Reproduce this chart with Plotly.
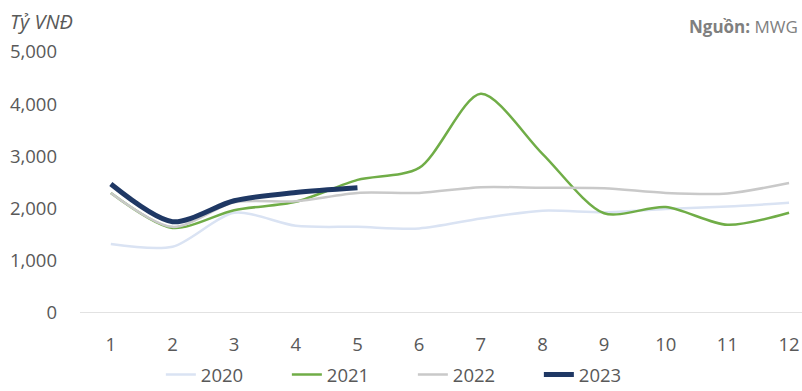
import plotly.graph_objects as go

# Monthly revenue (billion VND) by year
months = [1, 2, 3, 4, 5, 6, 7, 8, 9, 10, 11, 12]
month_labels = [str(m) for m in months]

rev_2020 = [1320, 1270, 1920, 1670, 1650, 1620, 1810, 1960, 1930, 1990, 2040, 2110]
rev_2021 = [2300, 1630, 1970, 2130, 2550, 2780, 4200, 3050, 1910, 2030, 1690, 1920]
rev_2022 = [2300, 1650, 2120, 2140, 2300, 2300, 2410, 2400, 2390, 2300, 2290, 2490]
rev_2023 = [2470, 1750, 2150, 2310, 2400]

y_ticks = [0, 1000, 2000, 3000, 4000, 5000]
y_tick_labels = ["0", "1,000", "2,000", "3,000", "4,000", "5,000"]

series = [
    ("2020", rev_2020, "#dae3f3", 2.5),
    ("2021", rev_2021, "#70ad47", 2.5),
    ("2022", rev_2022, "#c9c9c9", 2.5),
    ("2023", rev_2023, "#1f3864", 5),
]

FONT = "Open Sans"
TEXT = "#595959"
FS = 18.5

fig = go.Figure()
for name, vals, color, width in series:
    fig.add_trace(go.Scatter(
        x=months[:len(vals)],
        y=vals,
        name=name,
        mode="lines",
        line=dict(color=color, width=width, shape="spline", smoothing=0.8),
    ))

fig.update_layout(
    width=802,
    height=391,
    margin=dict(l=80, r=0, t=52, b=78, autoexpand=False),
    paper_bgcolor="white",
    plot_bgcolor="white",
    font=dict(family=FONT, size=FS, color=TEXT),
    showlegend=True,
    legend=dict(
        orientation="h",
        x=0.112,
        xanchor="left",
        y=-0.165,
        yanchor="top",
        font=dict(size=FS, color=TEXT),
        entrywidth=81,
        entrywidthmode="pixels",
        tracegroupgap=0,
    ),
    xaxis=dict(
        range=[0.5, 12.21],
        tickmode="array",
        tickvals=months,
        ticktext=month_labels,
        showgrid=False,
        zeroline=False,
        showline=False,
        ticks="",
        ticklabelstandoff=18,
        tickfont=dict(size=FS, color=TEXT),
    ),
    yaxis=dict(
        range=[0, 5000],
        tickmode="array",
        tickvals=y_ticks,
        ticktext=y_tick_labels,
        showgrid=False,
        zeroline=False,
        showline=False,
        ticks="",
        ticklabelstandoff=22,
        tickfont=dict(size=FS, color=TEXT),
    ),
    shapes=[
        dict(type="line", xref="paper", yref="y", x0=0, x1=1, y0=0, y1=0,
             line=dict(color="#d9d9d9", width=1.5), layer="below"),
    ],
    annotations=[
        dict(text="<i>Tỷ VNĐ</i>", xref="paper", yref="paper",
             x=-0.0997, y=1.115, xanchor="left", yanchor="middle",
             showarrow=False, font=dict(size=20, color=TEXT, family=FONT)),
        dict(text="<b>Nguồn:</b> MWG", xref="paper", yref="paper",
             x=0.997, y=1.096, xanchor="right", yanchor="middle",
             showarrow=False, font=dict(size=17, color="#7f7f7f", family=FONT)),
    ],
)

fig.write_html("out.html")
